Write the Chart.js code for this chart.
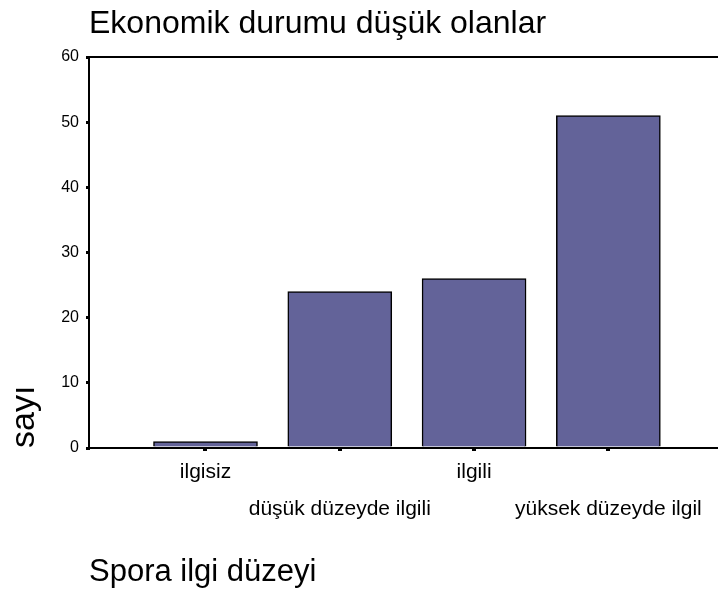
<!DOCTYPE html>
<html>
<head>
<meta charset="utf-8">
<script src="https://cdn.jsdelivr.net/npm/chart.js@4"></script>
<style>
html, body { margin: 0; padding: 0; background: #fff; }
</style>
</head>
<body>
<canvas id="chart" width="718" height="597"></canvas>
<script>
// Data
const categories = ['ilgisiz', 'düşük düzeyde ilgili', 'ilgili', 'yüksek düzeyde ilgil'];
const counts = [1, 24, 26, 51];
const yTicks = [0, 10, 20, 30, 40, 50, 60];

Chart.defaults.font.family = "'Liberation Sans', Arial, sans-serif";
Chart.defaults.color = '#000';

const ctx = document.getElementById('chart');

new Chart(ctx, {
    type: 'bar',
    data: {
        datasets: [{
            data: counts.map((v, i) => ({ x: i, y: v })),
            backgroundColor: '#636399',
            borderColor: '#000',
            borderWidth: 1.5,
            barThickness: 104
        }]
    },
    options: {
        responsive: false,
        animation: false,
        layout: { padding: 0 },
        plugins: {
            legend: { display: false },
            tooltip: { enabled: false },
            title: {
                display: true,
                text: 'Ekonomik durumu düşük olanlar',
                align: 'start',
                fullSize: false,
                color: '#000',
                font: { size: 32, weight: 'normal', lineHeight: 1.1 },
                padding: { top: 7, bottom: 14.8 }
            }
        },
        scales: {
            x: {
                type: 'linear',
                offset: false,
                min: -0.8675,
                max: 3.8165,
                afterBuildTicks: s => { s.ticks = categories.map((c, i) => ({ value: i })); },
                afterFit: s => { s.height = 149; },
                ticks: {
                    autoSkip: false,
                    maxRotation: 0,
                    minRotation: 0,
                    padding: 3,
                    font: { size: 21, lineHeight: 1.76 },
                    // stagger the labels on two rows
                    callback: v => (v % 2 === 0 ? categories[v] : ['', categories[v]])
                },
                grid: { offset: false, drawOnChartArea: false, tickLength: 3, lineWidth: 4, color: '#000' },
                border: { display: true, color: '#000', width: 2 },
                title: {
                    display: true,
                    text: 'Spora ilgi düzeyi',
                    align: 'start',
                    font: { size: 31 },
                    padding: { top: 0, bottom: 6 }
                }
            },
            x2: {
                type: 'linear',
                position: 'top',
                display: true,
                min: 0,
                max: 1,
                afterFit: s => { s.height = 0; },
                ticks: { display: false },
                grid: { display: false },
                border: { display: true, color: '#000', width: 2 }
            },
            y: {
                min: 0,
                max: 60,
                afterBuildTicks: s => { s.ticks = yTicks.map(v => ({ value: v })); },
                afterFit: s => { s.width = 89; },
                ticks: { font: { size: 16 }, padding: 7 },
                grid: { drawOnChartArea: false, tickLength: 3, lineWidth: 3, color: '#000' },
                border: { display: true, color: '#000', width: 2 },
                title: {
                    display: true,
                    text: 'sayı',
                    align: 'start',
                    font: { size: 34, lineHeight: 1 },
                    padding: { top: 7.5, bottom: 0 }
                }
            }
        }
    }
});
</script>
</body>
</html>
